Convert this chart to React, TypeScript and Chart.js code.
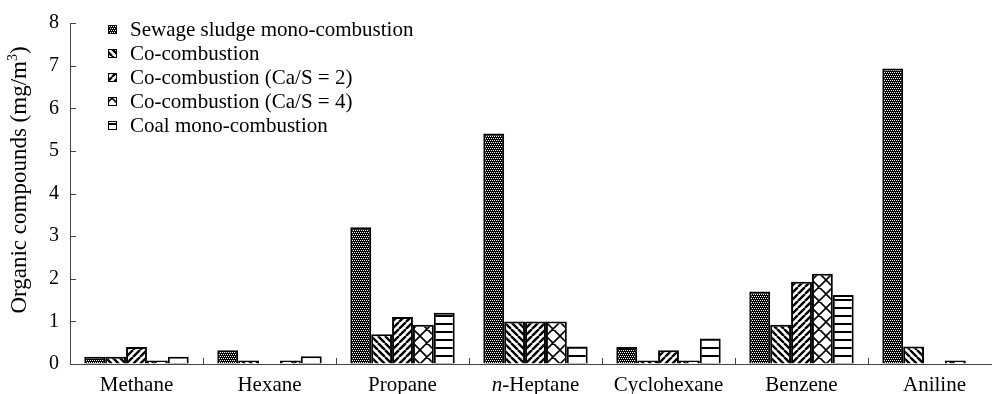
import React, { useEffect, useRef } from "react";
import { Chart, registerables } from "chart.js";

Chart.register(...registerables);

const categories = ["Methane", "Hexane", "Propane", "n-Heptane", "Cyclohexane", "Benzene", "Aniline"];
const seriesNames = [
  "Sewage sludge mono-combustion",
  "Co-combustion",
  "Co-combustion (Ca/S = 2)",
  "Co-combustion (Ca/S = 4)",
  "Coal mono-combustion",
];
const sludge = [0.17, 0.32, 3.21, 5.41, 0.4, 1.7, 6.93];
const coComb = [0.17, 0.08, 0.7, 1.0, 0.08, 0.92, 0.41];
const coCa2 = [0.4, 0, 1.1, 1.0, 0.32, 1.93, 0];
const coCa4 = [0.08, 0.08, 0.92, 1.0, 0.08, 2.12, 0.08];
const coal = [0.17, 0.18, 1.2, 0.41, 0.6, 1.62, 0];
const yTicks = [0, 1, 2, 3, 4, 5, 6, 7, 8];

const SERIF = "'Liberation Serif', 'Times New Roman', serif";
const AXIS = "#444";

function makePattern(kind: string): CanvasPattern | string {
  const c = document.createElement("canvas");
  let s = 8;
  if (kind === "dots") s = 4;
  if (kind === "back" || kind === "fwd") s = 7;
  if (kind === "cross") s = 14;
  if (kind === "horiz") s = 8;
  c.width = s;
  c.height = s;
  const g = c.getContext("2d")!;
  g.fillStyle = "#fff";
  g.fillRect(0, 0, s, s);
  g.strokeStyle = "#000";
  g.fillStyle = "#000";
  if (kind === "dots") {
    g.fillRect(0, 0, s, s);
    g.fillStyle = "#fff";
    g.fillRect(0, 0, 1, 1);
    g.fillRect(2, 0, 1, 1);
    g.fillRect(1, 2, 1, 1);
    g.fillRect(3, 2, 1, 1);
  } else if (kind === "back") {
    g.lineWidth = 2.4;
    g.beginPath();
    for (let k = -1; k <= 1; k++) {
      g.moveTo(k * s, 0);
      g.lineTo(k * s + s, s);
    }
    g.stroke();
  } else if (kind === "fwd") {
    g.lineWidth = 2.4;
    g.beginPath();
    for (let k = -1; k <= 1; k++) {
      g.moveTo(k * s, s);
      g.lineTo(k * s + s, 0);
    }
    g.stroke();
  } else if (kind === "cross") {
    g.lineWidth = 1.6;
    g.beginPath();
    for (let k = -1; k <= 1; k++) {
      g.moveTo(k * s, 0);
      g.lineTo(k * s + s, s);
      g.moveTo(k * s, s);
      g.lineTo(k * s + s, 0);
    }
    g.stroke();
  } else if (kind === "horiz") {
    g.fillRect(0, 3, s, 2);
  }
  const p = g.createPattern(c, "repeat");
  return p || "#888";
}

export default function App() {
  const ref = useRef<HTMLCanvasElement | null>(null);

  useEffect(() => {
    if (!ref.current) return;
    const kinds = ["dots", "back", "fwd", "cross", "horiz"];
    const values = [sludge, coComb, coCa2, coCa4, coal];
    const patterns = kinds.map(makePattern);

    const overlay = {
      id: "overlay",
      afterDraw(chart: any) {
        const ctx = chart.ctx as CanvasRenderingContext2D;
        const area = chart.chartArea;
        const x = chart.scales.x;
        const y = chart.scales.y;
        ctx.save();
        // inward ticks
        ctx.strokeStyle = AXIS;
        ctx.lineWidth = 1;
        ctx.beginPath();
        for (const v of yTicks) {
          const py = Math.round(y.getPixelForValue(v)) + 0.5;
          ctx.moveTo(area.left, py);
          ctx.lineTo(area.left + 6, py);
        }
        const n = categories.length;
        const cw = (area.right - area.left) / n;
        for (let i = 1; i <= n; i++) {
          const px = Math.round(area.left + i * cw) + 0.5;
          ctx.moveTo(px, area.bottom);
          ctx.lineTo(px, area.bottom - 6);
        }
        ctx.stroke();

        // x labels
        ctx.fillStyle = "#000";
        ctx.textBaseline = "alphabetic";
        ctx.textAlign = "left";
        const normal = `21px ${SERIF}`;
        const italic = `italic 21px ${SERIF}`;
        categories.forEach((lab, i) => {
          const cx = x.getPixelForValue(i);
          const by = 391;
          if (lab.startsWith("n-")) {
            ctx.font = italic;
            const w1 = ctx.measureText("n").width;
            ctx.font = normal;
            const w2 = ctx.measureText(lab.slice(1)).width;
            const sx = cx - (w1 + w2) / 2;
            ctx.font = italic;
            ctx.fillText("n", sx, by);
            ctx.font = normal;
            ctx.fillText(lab.slice(1), sx + w1, by);
          } else {
            ctx.font = normal;
            const w = ctx.measureText(lab).width;
            ctx.fillText(lab, cx - w / 2, by);
          }
        });

        // y title
        ctx.save();
        ctx.translate(26, 180);
        ctx.rotate(-Math.PI / 2);
        const big = `23px ${SERIF}`;
        const small = `14px ${SERIF}`;
        ctx.font = big;
        ctx.textBaseline = "alphabetic";
        const t1 = "Organic compounds (mg/m";
        const tW = ctx.measureText(t1).width;
        ctx.font = small;
        const supW = ctx.measureText("3").width;
        ctx.font = big;
        const closeW = ctx.measureText(")").width;
        const total = tW + supW + closeW;
        ctx.textAlign = "left";
        let sx = -total / 2;
        ctx.fillText(t1, sx, 0);
        sx += tW;
        ctx.font = small;
        ctx.fillText("3", sx, -9);
        sx += supW;
        ctx.font = big;
        ctx.fillText(")", sx, 0);
        ctx.restore();

        // legend
        ctx.font = `21px ${SERIF}`;
        ctx.textBaseline = "middle";
        ctx.textAlign = "left";
        seriesNames.forEach((name, i) => {
          const cy = 29.5 + i * 24;
          const bx = 108.5;
          const by = Math.round(cy - 4.5) + 0.5;
          ctx.fillStyle = patterns[i] as any;
          ctx.fillRect(bx, by, 8, 8);
          ctx.strokeStyle = "#000";
          ctx.lineWidth = 1;
          ctx.strokeRect(bx, by, 8, 8);
          ctx.fillStyle = "#000";
          ctx.fillText(name, 130, cy + 1);
        });
        ctx.restore();
      },
    };

    const chart = new Chart(ref.current, {
      type: "bar",
      data: {
        labels: categories,
        datasets: seriesNames.map((name, i) => ({
          label: name,
          data: values[i],
          backgroundColor: patterns[i] as any,
          borderColor: "#000",
          borderWidth: 2,
          categoryPercentage: 0.785,
          barPercentage: 1,
        })),
      },
      options: {
        animation: false,
        responsive: true,
        maintainAspectRatio: false,
        layout: { padding: { top: 18, right: 9, left: 0, bottom: 0 } },
        plugins: {
          legend: { display: false },
          tooltip: { enabled: false },
        },
        scales: {
          x: {
            ticks: { display: false },
            grid: { display: true, drawOnChartArea: false, drawTicks: false },
            border: { display: true, color: AXIS, width: 1 },
            afterFit: (s: any) => {
              s.height = 30;
            },
          },
          y: {
            min: 0,
            max: 8,
            ticks: {
              stepSize: 1,
              color: "#000",
              padding: 11,
              font: { family: SERIF, size: 20 },
            },
            grid: { display: true, drawOnChartArea: false, drawTicks: false },
            border: { display: true, color: AXIS, width: 1 },
            afterFit: (s: any) => {
              s.width = 70;
            },
          },
        },
      },
      plugins: [overlay],
    });
    return () => chart.destroy();
  }, []);

  return (
    <div style={{ position: "fixed", left: 0, top: 0, width: 992, height: 394, overflow: "hidden", background: "#fff" }}>
      <div style={{ position: "absolute", left: 0, top: 0, width: 1010, height: 394 }}>
        <canvas ref={ref} />
      </div>
    </div>
  );
}
